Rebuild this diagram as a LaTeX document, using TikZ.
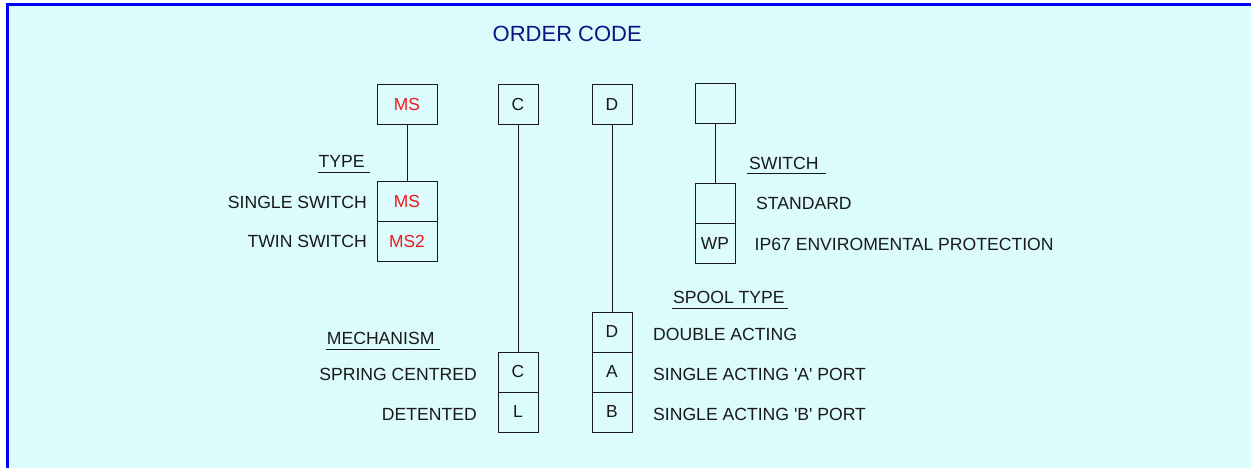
\documentclass[tikz,border=0pt]{standalone}
\usepackage{fontspec}
\setmainfont{Liberation Sans}
\usetikzlibrary{positioning}
\definecolor{panel}{RGB}{219,251,252}
\definecolor{frame}{RGB}{0,0,240}
\definecolor{inkcol}{RGB}{25,25,25}
\definecolor{codered}{RGB}{240,25,25}
\definecolor{titlecol}{RGB}{15,20,130}
\tikzset{
  codebox/.style={draw=inkcol, line width=1pt, minimum width=40pt, minimum height=40pt,
    inner sep=0pt, outer sep=0pt, text=inkcol, font=\fontsize{17.4}{20}\selectfont},
  widebox/.style={codebox, minimum width=60pt, text=codered},
  lbl/.style={inner sep=0pt, text=inkcol, font=\fontsize{17.6}{20}\selectfont},
  wire/.style={draw=inkcol, line width=1pt}
}

\begin{document}
\begin{tikzpicture}[x=1pt,y=-1pt]
  \useasboundingbox (0,0) rectangle (1251,468);
  \fill[panel] (9,6) rectangle (1251,468);                          %Background panel
  \draw[frame, line width=3pt] (7.5,468) -- (7.5,4.5) -- (1251,4.5); %Frame edges

  \node[lbl, anchor=base west, text=titlecol, font=\fontsize{22}{24}\selectfont]
    (title) at (492.5,41.7) {ORDER CODE};

  \node[widebox] (mstop) at (407,105) {MS}; % Top row of the code
  \node[codebox] (ctop) at (518,105) {C};
  \node[codebox] (dtop) at (612,105) {D};
  \node[codebox] (swtop) at (715,104) {};

  % Type
  \node[lbl, anchor=base west] (typehd) at (318.5,167.3) {TYPE};
  \draw[wire] ([xshift=-1pt,yshift=-5pt]typehd.base west) -- ([xshift=5pt,yshift=-5pt]typehd.base east);
  \node[widebox] (ms) at (407,201.3) {MS};
  \node[widebox, below=0pt of ms] (mstwo) {MS2};
  \node[lbl, anchor=base east] (single) at (367,208) {SINGLE SWITCH};
  \node[lbl, anchor=base east] (twin) at (367,247.3) {TWIN SWITCH};
  \draw[wire] (mstop) -- (ms);

  % Mechanism
  \node[lbl, anchor=base west] (mechhd) at (326.7,344) {MECHANISM};
  \draw[wire] ([xshift=-1pt,yshift=-5pt]mechhd.base west) -- ([xshift=5pt,yshift=-5pt]mechhd.base east);
  \node[codebox] (mechc) at (518,372) {C};
  \node[codebox, below=0pt of mechc] (mechl) {L};
  \node[lbl, anchor=base east] (spring) at (477,380) {SPRING CENTRED};
  \node[lbl, anchor=base east] (detent) at (477,420) {DETENTED};
  \draw[wire] (ctop) -- (mechc);

  % Spool type
  \node[lbl, anchor=base west] (spoolhd) at (673,303.3) {SPOOL TYPE};
  \draw[wire] ([xshift=-1pt,yshift=-5pt]spoolhd.base west) -- ([xshift=3pt,yshift=-5pt]spoolhd.base east);
  \node[codebox] (spoold) at (612,332) {D};
  \node[codebox, below=0pt of spoold] (spoola) {A};
  \node[codebox, below=0pt of spoola] (spoolb) {B};
  \node[lbl, anchor=base west] (double) at (653,340) {DOUBLE ACTING};
  \node[lbl, anchor=base west] (porta) at (653,380) {SINGLE ACTING \textquotesingle A\textquotesingle{} PORT};
  \node[lbl, anchor=base west] (portb) at (653,420) {SINGLE ACTING \textquotesingle B\textquotesingle{} PORT};
  \draw[wire] (dtop) -- (spoold);

  % Switch
  \node[lbl, anchor=base west] (swhd) at (749,169.3) {SWITCH};
  \draw[wire] ([xshift=-2pt,yshift=-4pt]swhd.base west) -- ([xshift=7pt,yshift=-4pt]swhd.base east);
  \node[codebox] (swstd) at (715,203.3) {};
  \node[codebox, below=0pt of swstd] (swwp) {WP};
  \node[lbl, anchor=base west] (standard) at (756,210) {STANDARD};
  \node[lbl, anchor=base west] (ipsix) at (754.5,250) {IP67 ENVIROMENTAL PROTECTION};
  \draw[wire] (swtop) -- (swstd);
\end{tikzpicture}
\end{document}
